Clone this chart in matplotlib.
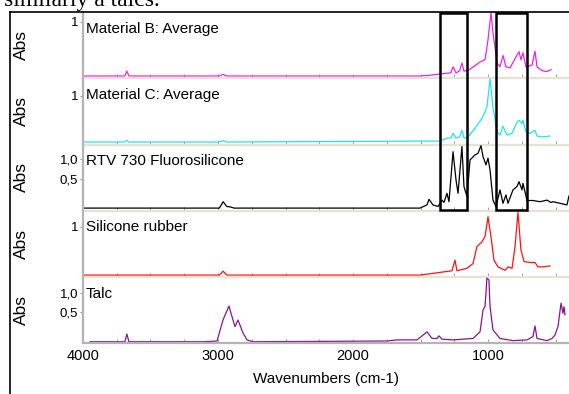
import matplotlib
matplotlib.use("Agg")
import matplotlib.pyplot as plt
from matplotlib import transforms
from matplotlib.lines import Line2D
from matplotlib.patches import Rectangle
from matplotlib.ticker import FixedLocator

# --- spectra (wavenumber cm-1, absorbance) ---
names = ["Material B: Average", "Material C: Average", "RTV 730 Fluorosilicone",
         "Silicone rubber", "Talc"]

wn_b = [4000, 3690, 3675, 3660, 2990, 2962, 2935, 1505, 1445, 1356, 1275, 1259, 1237,
        1210, 1193, 1178, 1148, 1059, 1022, 1000, 978, 963, 933, 911, 889, 867, 837,
        785, 770, 756, 741, 719, 674, 652, 637, 600, 563, 533]
abs_b = [0, 0, 0.09, 0, 0, 0.03, 0, 0, 0.01, 0.037, 0.06, 0.17, 0.056,
         0.1, 0.24, 0.09, 0.1, 0.26, 0.3, 0.67, 1.17, 0.8, 0.24, 0.17, 0.38, 0.17, 0.15,
         0.39, 0.45, 0.3, 0.43, 0.17, 0.2, 0.46, 0.17, 0.1, 0.08, 0.12]

wn_c = [4000, 3690, 3675, 3660, 2990, 2962, 2935, 1504, 1356, 1304, 1275, 1259, 1237,
        1210, 1193, 1178, 1148, 1096, 1045, 1008, 985, 963, 933, 911, 889, 859, 822,
        785, 770, 748, 741, 719, 689, 652, 637, 600, 541]
abs_c = [0, 0, 0.04, 0, 0, 0.03, 0, 0.02, 0.02, 0.085, 0.09, 0.19, 0.085,
         0.11, 0.255, 0.085, 0.11, 0.3, 0.51, 0.75, 1.36, 0.75, 0.22, 0.15, 0.34, 0.15, 0.19,
         0.43, 0.47, 0.4, 0.47, 0.22, 0.19, 0.255, 0.13, 0.11, 0.13]

wn_rtv = [4000, 2990, 2962, 2935, 2910, 2880, 1504, 1452, 1437, 1408, 1370, 1341, 1326,
          1304, 1289, 1259, 1237, 1222, 1193, 1178, 1156, 1133, 1096, 1074, 1052, 1037,
          1015, 1000, 985, 963, 941, 911, 889, 867, 852, 815, 785, 770, 748, 741, 711,
          667, 615, 563, 533, 519, 467, 415, 400]
abs_rtv = [-0.23, -0.23, -0.07, -0.19, -0.2, -0.23, -0.23, -0.15, -0.01, -0.15, -0.19, -0.03, -0.09,
           0.14, -0.07, 1.18, 0.475, 0.14, 1.31, 0.31, 0.06, 0.975, 1.1, 1.14, 1.33, 1.06,
           0.85, 1.02, 0.725, -0.03, -0.19, 0.225, -0.11, 0.1, -0.11, 0.225, 0.31, 0.43, 0.225, 0.39, -0.04,
           -0.04, -0.07, -0.03, -0.09, -0.07, -0.11, -0.15, 0.075]

wn_sr = [4000, 2990, 2962, 2935, 1504, 1408, 1267, 1245, 1230, 1156, 1111, 1082, 1045,
         1022, 1000, 978, 956, 926, 874, 852, 822, 800, 778, 756, 733, 689, 652, 630,
         593, 541]
abs_sr = [0, 0, 0.08, 0, 0, 0.035, 0.09, 0.31, 0.09, 0.14, 0.24, 0.59, 0.69,
          0.8, 1.21, 0.8, 0.31, 0.17, 0.1, 0.17, 0.14, 0.59, 1.3, 0.52, 0.28, 0.26, 0.26, 0.17,
          0.17, 0.19]

wn_talc = [3948, 3690, 3675, 3660, 3111, 3007, 2963, 2919, 2889, 2874, 2852, 2815, 2785,
           2741, 1750, 1674, 1526, 1481, 1452, 1415, 1378, 1363, 1341, 1259, 1111, 1059,
           1037, 1022, 1008, 993, 985, 963, 911, 815, 711, 667, 652, 637, 563, 526, 504,
           482, 459, 445, 437, 430]
abs_talc = [-0.32, -0.32, -0.11, -0.32, -0.32, -0.3, 0.27, 0.65, 0.27, 0.09, 0.27, -0.08, -0.27,
            -0.32, -0.3, -0.27, -0.27, -0.14, -0.05, -0.23, -0.23, -0.16, -0.25, -0.27, -0.23, -0.05,
            0.545, 0.635, 1.41, 1.36, 0.635, 0, -0.23, -0.29, -0.27, -0.18, 0.11, -0.23, -0.29, -0.23, -0.14,
            0.09, 0.73, 0.455, 0.635, 0.41]

ytick_vals = [[1], [1], [0.5, 1.0], [1], [0.5, 1.0]]
ytick_text = [["1"], ["1"], ["0,5", "1,0"], ["1"], ["0,5", "1,0"]]
xtick_vals = [4000, 3000, 2000, 1000]
highlight = [(1356, 1156), (941, 711)]

series = [(wn_b, abs_b), (wn_c, abs_c), (wn_rtv, abs_rtv), (wn_sr, abs_sr), (wn_talc, abs_talc)]
colors = ["#f020f0", "#20e6ec", "black", "#ff1010", "#8a1490"]

# panel layout in pixels (top, bottom) and y limits
W, H = 569, 394
rows = [(12, 78), (78, 144.5), (144.5, 210.5), (210.5, 277), (277, 343)]
ylims = [(-0.037, 1.185), (-0.053, 1.38), (-0.29, 1.36), (-0.04, 1.34), (-0.354, 1.44)]

plt.rcParams["font.family"] = ["Liberation Sans", "DejaVu Sans"]

fig = plt.figure(figsize=(W / 100, H / 100), dpi=100)
left = 83 / W
width = (W - 83) / W

axes = []
for i, (top, bot) in enumerate(rows):
    ax = fig.add_axes([left, 1 - bot / H, width, (bot - top) / H])
    wn, ab = series[i]
    ax.plot(wn, ab, color=colors[i], lw=0.9)
    ax.set_xlim(4000, 400)
    ax.set_ylim(*ylims[i])
    for s in ("top", "right"):
        ax.spines[s].set_visible(False)
    ax.spines["left"].set_color("#b4b4b4")
    ax.spines["left"].set_linewidth(1.6)
    last = i == len(rows) - 1
    ax.spines["bottom"].set_color("#b4b4b4" if last else "#e6e2d4")
    ax.spines["bottom"].set_linewidth(1.6)
    ax.yaxis.set_major_locator(FixedLocator(ytick_vals[i]))
    ax.set_yticklabels(ytick_text[i])
    ax.tick_params(axis="y", length=2.5, width=0.6, color="#808080", pad=1, labelsize=9.5)
    ax.xaxis.set_major_locator(FixedLocator(xtick_vals))
    ax.xaxis.set_minor_locator(FixedLocator([3750, 3500, 3250, 2750, 2500, 2250, 1750,
                                             1500, 1250, 750, 500]))
    ax.tick_params(axis="x", which="both", direction="in", length=3, width=0.6,
                   color="#909090", labelbottom=last, labelsize=10.5, pad=4)
    ax.patch.set_visible(False)
    ax.text(0.006, 0.685, names[i], transform=ax.transAxes, fontsize=11, va="baseline")
    fig.text(21 / W, 1 - (top + bot) / 2 / H, "Abs", rotation=90, ha="center",
             va="center", fontsize=12.5)
    axes.append(ax)

axes[-1].set_xlabel("Wavenumbers (cm-1)", fontsize=11, labelpad=7)

# highlight boxes spanning the first three panels
tr = transforms.blended_transform_factory(axes[0].transData, fig.transFigure)
for hi, lo in highlight:
    fig.add_artist(Rectangle((hi, 1 - 209.5 / H), lo - hi, (209.5 - 12.5) / H,
                             transform=tr, fill=False, ec="black", lw=1.8))

# outer frame lines from the page
fig.add_artist(Line2D([10 / W, 1], [1 - 12 / H, 1 - 12 / H], color="black", lw=1.2))
fig.add_artist(Line2D([10 / W, 10 / W], [0, 1 - 12 / H], color="black", lw=1.2))

# cut-off text above the figure, as on the page
fig.text(4 / W, 1 - 6 / H, "similarly a talcs.", fontsize=17, va="baseline",
         family=["Liberation Serif", "DejaVu Serif"])

fig.savefig("out.png", dpi=100)
